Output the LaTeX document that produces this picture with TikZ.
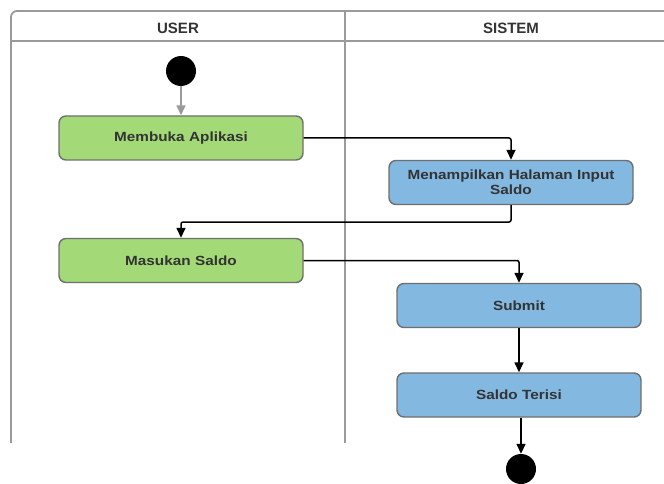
\documentclass[tikz,border=0pt]{standalone}
\usepackage{fontspec}
\setmainfont{Liberation Sans}
\newfontfamily\boxfont[FakeStretch=1.15]{Liberation Sans}
\usetikzlibrary{arrows.meta}
\definecolor{lanegray}{HTML}{9A9A9A}
\definecolor{boxborder}{HTML}{6F6F6F}
\definecolor{userfill}{HTML}{A3D977}
\definecolor{sysfill}{HTML}{83B8E0}
\definecolor{labeltext}{HTML}{333333}
\tikzset{
  lane/.style={draw=lanegray, line width=1.8pt},
  act/.style={draw=boxborder, line width=1.4pt, rounded corners=7pt,
    minimum width=244pt, minimum height=44pt, inner sep=2pt,
    font=\boxfont\bfseries\fontsize{13.3}{15}\selectfont, text=labeltext,
    align=center, text width=236pt},
  useract/.style={act, fill=userfill},
  sysact/.style={act, fill=sysfill},
  flow/.style={draw=black, line width=1.5pt, rounded corners=2pt,
    -{Triangle[length=10pt,width=9pt]}},
  startflow/.style={flow, draw=lanegray, -{Triangle[length=10pt,width=9pt,fill=lanegray]}},
  dot/.style={circle, fill=black, minimum size=30pt, inner sep=0pt},
  lanehead/.style={font=\bfseries\fontsize{15}{17}\selectfont, text=labeltext}
}
\begin{document}
\begin{tikzpicture}[x=1pt,y=-1pt]
\useasboundingbox (0,0) rectangle (664,484);
% swimlanes
\draw[lane, rounded corners=6pt] (11,443) -- (11,11) -- (664,11);
\draw[lane] (11,41) -- (664,41);
\draw[lane] (345,11) -- (345,443);
\node[lanehead] (huser) at (178,28) {USER};
\node[lanehead] (hsys) at (511,28) {SISTEM};
% activities
\node[dot] (start) at (181,71) {};
\node[useract] (buka) at (181,138) {Membuka Aplikasi};
\node[sysact] (tampil) at (511,182.5) {Menampilkan Halaman Input\\Saldo};
\node[useract] (masuk) at (181,260.5) {Masukan Saldo};
\node[sysact] (submit) at (519,305.5) {Submit};
\node[sysact] (terisi) at (519,395) {Saldo Terisi};
\node[dot] (finish) at (521,469) {};
% flows
\draw[startflow] (start) -- (buka);
\draw[flow] (buka.east) -| (tampil.north);
\draw[flow] (tampil.south) |- (181,222) -- (masuk.north);
\draw[flow] (masuk.east) -| (submit.north);
\draw[flow] (submit) -- (terisi);
\draw[flow] (terisi.south -| finish) -- (finish.north);
\end{tikzpicture}
\end{document}
